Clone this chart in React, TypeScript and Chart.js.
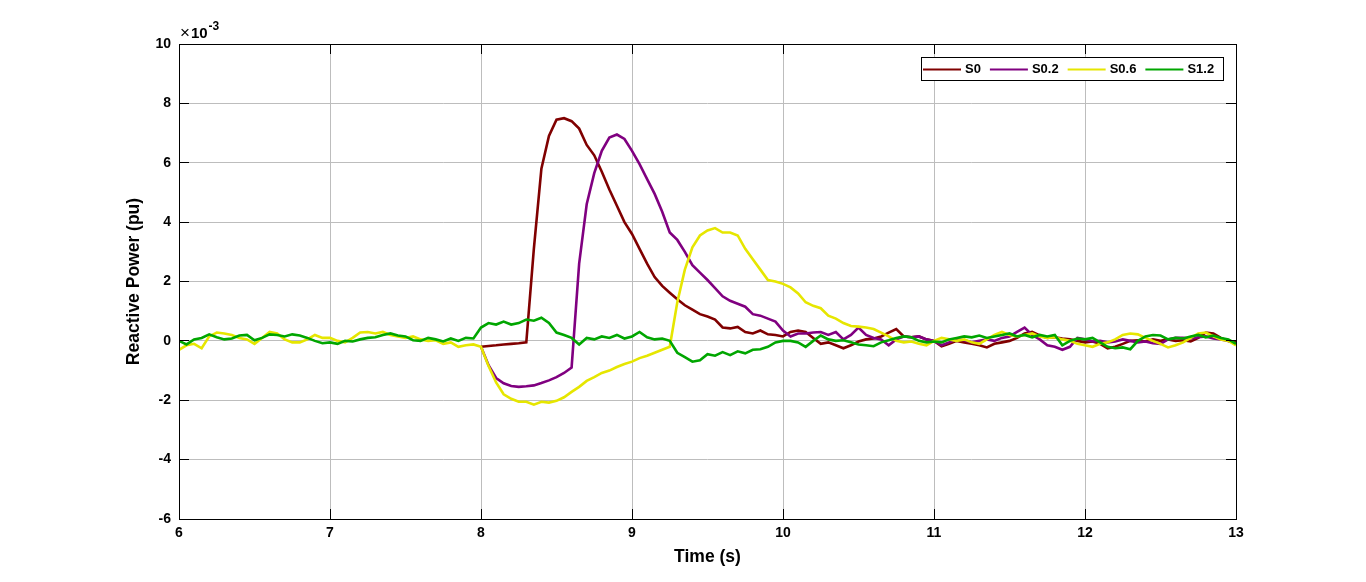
import { useEffect, useRef } from 'react';
import { Chart, registerables } from 'chart.js';

Chart.register(...registerables);

const FONT = "'Liberation Sans', Arial, sans-serif";

// sample step of the recorded traces (s)
const DT = 0.05;

const seriesNames = ['S0', 'S0.2', 'S0.6', 'S1.2'];
const seriesColors = ['#800000', '#800080', '#e6e600', '#00a600'];
// time of the first sample of each trace
const seriesStart = [8, 8, 6, 6];

// reactive power in units of 1e-3 pu, one value every 0.05 s
const s0 = [
  -0.2, -0.17, -0.15, -0.12, -0.1, -0.08, -0.05, 3.1, 5.8, 6.9,
  7.45, 7.5, 7.4, 7.15, 6.6, 6.25, 5.7, 5.1, 4.55, 4.0,
  3.6, 3.1, 2.6, 2.15, 1.85, 1.62, 1.4, 1.2, 1.05, 0.9,
  0.82, 0.72, 0.45, 0.42, 0.47, 0.3, 0.25, 0.35, 0.22, 0.2,
  0.15, 0.3, 0.35, 0.3, 0.1, -0.1, -0.05, -0.15, -0.25, -0.15,
  -0.02, 0.05, 0.08, 0.15, 0.28, 0.4, 0.15, 0.12, 0.15, 0.05,
  0.0, -0.18, -0.1, 0.0, -0.05, -0.1, -0.15, -0.22, -0.1, -0.05,
  0.0, 0.1, 0.25, 0.3, 0.18, 0.1, 0.12, 0.08, 0.05, 0.0,
  -0.05, -0.02, -0.1, -0.25, -0.2, -0.1, 0.0, 0.02, -0.02, 0.05,
  0.0, 0.05, 0.0, 0.02, -0.02, 0.1, 0.28, 0.25, 0.1, 0.0,
  -0.05,
];

const s02 = [
  -0.2, -0.82, -1.25, -1.43, -1.52, -1.55, -1.53, -1.5, -1.42, -1.33,
  -1.22, -1.08, -0.9, 2.6, 4.6, 5.65, 6.4, 6.85, 6.95, 6.8,
  6.4, 5.95, 5.45, 4.95, 4.35, 3.65, 3.4, 3.0, 2.55, 2.3,
  2.05, 1.78, 1.5, 1.35, 1.25, 1.15, 0.9, 0.85, 0.75, 0.65,
  0.35, 0.15, 0.25, 0.25, 0.28, 0.3, 0.2, 0.3, 0.05, 0.2,
  0.45, 0.2, 0.1, 0.05, -0.15, 0.05, 0.15, 0.12, 0.15, 0.05,
  0.0, -0.15, -0.05, 0.05, 0.02, -0.05, 0.0, 0.05, 0.0, 0.1,
  0.15, 0.3, 0.45, 0.2, 0.05, -0.15, -0.2, -0.3, -0.2, 0.1,
  0.05, -0.02, 0.0, -0.05, -0.02, 0.05, 0.0, -0.05, -0.02, -0.08,
  -0.1, 0.05, 0.1, 0.1, 0.08, 0.12, 0.15, 0.08, 0.05, 0.0,
  -0.1,
];

const s06 = [
  -0.3, -0.15, -0.1, -0.25, 0.15, 0.28, 0.25, 0.2, 0.1, 0.05,
  -0.1, 0.1, 0.3, 0.25, 0.05, -0.05, -0.05, 0.05, 0.2, 0.1,
  0.1, 0.0, -0.05, 0.1, 0.28, 0.3, 0.25, 0.3, 0.2, 0.15,
  0.1, 0.15, 0.05, 0.0, 0.02, -0.1, -0.05, -0.2, -0.15, -0.12,
  -0.2, -0.85, -1.4, -1.8, -1.95, -2.05, -2.05, -2.15, -2.05, -2.08,
  -2.02, -1.9, -1.72, -1.55, -1.35, -1.22, -1.08, -1.0, -0.88, -0.78,
  -0.7, -0.58, -0.5, -0.4, -0.3, -0.2, 1.3, 2.4, 3.15, 3.55,
  3.72, 3.8, 3.65, 3.65, 3.55, 3.1, 2.75, 2.4, 2.05, 2.0,
  1.92, 1.8, 1.6, 1.3, 1.18, 1.1, 0.85, 0.75, 0.6, 0.5,
  0.48, 0.45, 0.4, 0.28, 0.15, 0.0, -0.05, -0.02, -0.1, -0.15,
  0.0, 0.1, 0.05, 0.0, 0.05, -0.05, -0.1, 0.05, 0.2, 0.3,
  0.2, 0.15, 0.2, 0.25, 0.15, 0.1, 0.12, 0.05, 0.0, -0.1,
  -0.15, -0.2, -0.1, -0.05, 0.05, 0.2, 0.25, 0.22, 0.1, 0.0,
  -0.1, -0.22, -0.15, -0.05, 0.1, 0.25, 0.28, 0.15, 0.05, 0.0,
  -0.15,
];

const s12 = [
  0.0, -0.12, 0.05, 0.1, 0.22, 0.12, 0.05, 0.08, 0.18, 0.2,
  0.02, 0.1, 0.22, 0.2, 0.15, 0.22, 0.18, 0.1, 0.0, -0.08,
  -0.05, -0.1, 0.0, -0.02, 0.05, 0.1, 0.12, 0.2, 0.25, 0.18,
  0.15, 0.02, 0.0, 0.1, 0.05, -0.02, 0.08, 0.0, 0.1, 0.08,
  0.45, 0.6, 0.55, 0.65, 0.55, 0.6, 0.72, 0.68, 0.78, 0.6,
  0.28, 0.2, 0.1, -0.12, 0.1, 0.05, 0.15, 0.1, 0.2, 0.08,
  0.15, 0.3, 0.12, 0.05, 0.08, 0.0, -0.4, -0.55, -0.7, -0.65,
  -0.45, -0.5, -0.38, -0.48, -0.35, -0.42, -0.3, -0.28, -0.2, -0.05,
  0.0, 0.0, -0.05, -0.2, 0.0, 0.18, 0.05, 0.0, 0.02, -0.05,
  -0.12, -0.15, -0.18, -0.05, 0.02, 0.1, 0.15, 0.12, 0.0, -0.05,
  -0.02, -0.05, 0.05, 0.1, 0.15, 0.12, 0.18, 0.1, 0.15, 0.2,
  0.25, 0.15, 0.2, 0.12, 0.2, 0.15, 0.2, -0.15, 0.0, 0.08,
  0.05, 0.1, -0.05, -0.2, -0.25, -0.22, -0.28, 0.0, 0.15, 0.2,
  0.18, 0.05, 0.1, 0.08, 0.15, 0.2, 0.12, 0.18, 0.1, 0.05,
  -0.1,
];

const seriesValues = [s0, s02, s06, s12];

const xTickValues = [6, 7, 8, 9, 10, 11, 12, 13];
const yTickValues = [-6, -4, -2, 0, 2, 4, 6, 8, 10];

const toPoints = (values: number[], start: number) =>
  values.map((v, i) => ({ x: Math.round((start + i * DT) * 1000) / 1000, y: v }));

// MATLAB-like box, inner tick marks, exponent label and boxed legend
const framePlugin = {
  id: 'matlabFrame',
  afterDatasetsDraw(chart: any) {
    const { ctx, chartArea: a, scales } = chart;
    const tickLen = 10;
    ctx.save();
    ctx.strokeStyle = '#000';
    ctx.lineWidth = 1;
    ctx.beginPath();
    scales.x.ticks.forEach((t: any) => {
      const px = Math.round(scales.x.getPixelForValue(t.value) - 0.5) + 0.5;
      ctx.moveTo(px, a.bottom);
      ctx.lineTo(px, a.bottom - tickLen);
      ctx.moveTo(px, a.top);
      ctx.lineTo(px, a.top + tickLen);
    });
    scales.y.ticks.forEach((t: any) => {
      const py = Math.round(scales.y.getPixelForValue(t.value) - 0.5) + 0.5;
      ctx.moveTo(a.left, py);
      ctx.lineTo(a.left + tickLen, py);
      ctx.moveTo(a.right, py);
      ctx.lineTo(a.right - tickLen, py);
    });
    ctx.stroke();
    const l = Math.round(a.left - 0.5) + 0.5;
    const t = Math.round(a.top - 0.5) + 0.5;
    const r = Math.round(a.right - 0.5) + 0.5;
    const b = Math.round(a.bottom - 0.5) + 0.5;
    ctx.strokeRect(l, t, r - l, b - t);

    // exponent label
    ctx.fillStyle = '#000';
    ctx.textAlign = 'left';
    ctx.textBaseline = 'alphabetic';
    let ex = a.left + 1;
    ctx.font = `17px ${FONT}`;
    ctx.fillText('×', ex, a.top - 6);
    ex += ctx.measureText('×').width + 1;
    ctx.font = `bold 15px ${FONT}`;
    ctx.fillText('10', ex, a.top - 6);
    ex += ctx.measureText('10').width + 1;
    ctx.font = `bold 12px ${FONT}`;
    ctx.fillText('-3', ex, a.top - 14);

    // legend
    const boxL = 921.5;
    const boxT = 57.5;
    const boxW = 302;
    const boxH = 23;
    ctx.fillStyle = '#fff';
    ctx.fillRect(boxL, boxT, boxW, boxH);
    ctx.strokeRect(boxL, boxT, boxW, boxH);
    ctx.font = `bold 13px ${FONT}`;
    ctx.textBaseline = 'middle';
    const cy = boxT + boxH / 2;
    let x = 923;
    seriesNames.forEach((name, i) => {
      ctx.strokeStyle = seriesColors[i];
      ctx.lineWidth = 2;
      ctx.beginPath();
      ctx.moveTo(x, Math.round(cy) + 0.5);
      ctx.lineTo(x + 38, Math.round(cy) + 0.5);
      ctx.stroke();
      ctx.fillStyle = '#000';
      ctx.fillText(name, x + 42, cy + 0.5);
      x += 42 + ctx.measureText(name).width + 9;
    });
    ctx.restore();
  },
};

export default function App() {
  const chartRef = useRef<HTMLCanvasElement>(null);
  const chartInstance = useRef<Chart | null>(null);

  useEffect(() => {
    if (!chartRef.current) return;
    if (chartInstance.current) chartInstance.current.destroy();

    chartInstance.current = new Chart(chartRef.current, {
      type: 'line',
      data: {
        datasets: seriesNames.map((name, i) => ({
          label: name,
          data: toPoints(seriesValues[i], seriesStart[i]),
          borderColor: seriesColors[i],
          backgroundColor: seriesColors[i],
          borderWidth: 2.6,
          pointRadius: 0,
          tension: 0,
          fill: false,
          order: seriesNames.length - i,
        })),
      },
      options: {
        animation: false,
        responsive: false,
        devicePixelRatio: 1,
        layout: { padding: { left: 0, top: 44, right: 130, bottom: 0 } },
        plugins: {
          legend: { display: false },
          tooltip: { enabled: false },
        },
        scales: {
          x: {
            type: 'linear',
            min: 6,
            max: 13,
            afterBuildTicks: (scale: any) => {
              scale.ticks = xTickValues.map((v) => ({ value: v }));
            },
            afterFit: (scale: any) => {
              scale.height = 63;
            },
            grid: { color: '#bdbdbd', lineWidth: 1, drawTicks: false },
            border: { display: false },
            ticks: {
              padding: 6,
              color: '#000',
              maxRotation: 0,
              font: { family: FONT, size: 14, weight: 'bold' },
            },
            title: {
              display: true,
              text: 'Time (s)',
              color: '#000',
              font: { family: FONT, size: 17.5, weight: 'bold' },
              padding: { top: 0, bottom: 14 },
            },
          },
          y: {
            type: 'linear',
            min: -6,
            max: 10,
            afterBuildTicks: (scale: any) => {
              scale.ticks = yTickValues.map((v) => ({ value: v }));
            },
            afterFit: (scale: any) => {
              scale.width = 179;
            },
            grid: { color: '#bdbdbd', lineWidth: 1, drawTicks: false },
            border: { display: false },
            ticks: {
              padding: 8,
              color: '#000',
              font: { family: FONT, size: 14, weight: 'bold' },
            },
            title: {
              display: true,
              text: 'Reactive Power (pu)',
              color: '#000',
              font: { family: FONT, size: 17.5, weight: 'bold' },
              padding: { top: 124, bottom: 0 },
            },
          },
        },
      },
      plugins: [framePlugin],
    } as any);

    return () => {
      if (chartInstance.current) {
        chartInstance.current.destroy();
        chartInstance.current = null;
      }
    };
  }, []);

  return (
    <div style={{ position: 'fixed', left: 0, top: 0, width: 1366, height: 582, background: '#fff' }}>
      <canvas ref={chartRef} width={1366} height={582} />
    </div>
  );
}
